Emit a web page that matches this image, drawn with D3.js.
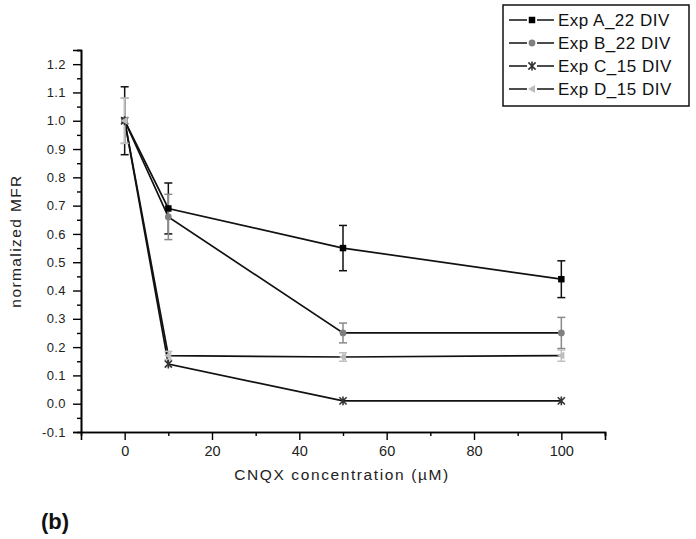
<!DOCTYPE html>
<html><head><meta charset="utf-8">
<script src="https://cdn.jsdelivr.net/npm/d3@7"></script>
<style>body{margin:0;background:#fff}svg{display:block}text{font-family:"Liberation Sans",Arial,sans-serif}</style></head>
<body><svg id="c" width="696" height="539"></svg>
<script>
const concentrations=[0,10,50,100];
const seriesNames=["Exp A_22 DIV","Exp B_22 DIV","Exp C_15 DIV","Exp D_15 DIV"];
const expA=[1.0,0.69,0.55,0.44];
const expAErr=[0.12,0.09,0.08,0.065];
const expB=[1.0,0.66,0.25,0.25];
const expBErr=[0.08,0.08,0.035,0.055];
const expC=[1.0,0.14,0.01,0.01];
const expCErr=[0.0,0.0,0.0,0.0];
const expD=[1.0,0.17,0.165,0.17];
const expDErr=[0.08,0.015,0.015,0.02];
const xTicks=[0,20,40,60,80,100];
const xMinor=[10,30,50,70,90,110];
const yTicks=[-0.1,0.0,0.1,0.2,0.3,0.4,0.5,0.6,0.7,0.8,0.9,1.0,1.1,1.2];
const yMinor=[-0.05,0.05,0.15,0.25,0.35,0.45,0.55,0.65,0.75,0.85,0.95,1.05,1.15,1.25];
const xTitle="CNQX concentration (\u00b5M)";
const yTitle="normalized MFR";
const panel="(b)";

const series=[
 {name:seriesNames[0],v:expA,e:expAErr,color:"#000",errColor:"#111",sym:"square"},
 {name:seriesNames[1],v:expB,e:expBErr,color:"#808080",errColor:"#8a8a8a",sym:"circle"},
 {name:seriesNames[2],v:expC,e:expCErr,color:"#333",errColor:"#333",sym:"star"},
 {name:seriesNames[3],v:expD,e:expDErr,color:"#bdbdbd",errColor:"#c0c0c0",sym:"tri"}
];

const svg=d3.select("#c");
const x=d3.scaleLinear().domain([-10,110]).range([81,605]);
const y=d3.scaleLinear().domain([-0.1,1.25]).range([432,50]);
const f1=d3.format(".1f");

// axes
const xAxis=svg.append("g").attr("transform","translate(0,432)")
 .call(d3.axisBottom(x).tickValues(xTicks).tickSize(8).tickPadding(6).tickFormat(d3.format("d")));
svg.append("g").attr("transform","translate(0,432)")
 .call(d3.axisBottom(x).tickValues(xMinor).tickSize(4).tickFormat(""));
const yAxis=svg.append("g").attr("transform","translate(81,0)")
 .call(d3.axisLeft(y).tickValues(yTicks).tickSize(8).tickPadding(7).tickFormat(d=>f1(d).replace("\u2212","-")));
svg.append("g").attr("transform","translate(81,0)")
 .call(d3.axisLeft(y).tickValues(yMinor).tickSize(4).tickFormat(""));
svg.selectAll(".domain").attr("stroke","#000").attr("stroke-width",1.6);
svg.selectAll(".tick line").attr("stroke","#000").attr("stroke-width",1.4);
xAxis.selectAll("text").attr("font-size",14.5).attr("fill","#222").attr("font-family","Liberation Sans, Arial");
yAxis.selectAll("text").attr("font-size",13).attr("fill","#222").attr("letter-spacing",0.4).attr("font-family","Liberation Sans, Arial");

// titles
svg.append("text").attr("x",342).attr("y",480).attr("text-anchor","middle")
 .attr("font-size",15.5).attr("letter-spacing",1.6).attr("fill","#222").text(xTitle);
svg.append("text").attr("transform","translate(21,241) rotate(-90)").attr("text-anchor","middle")
 .attr("font-size",15.5).attr("letter-spacing",1.4).attr("fill","#222").text(yTitle);
svg.append("text").attr("x",41).attr("y",529).attr("font-size",22).attr("font-weight","bold").attr("fill","#111").text(panel);

function symbolPath(sym){
 if(sym==="square") return d3.symbol(d3.symbolSquare,42)();
 if(sym==="circle") return d3.symbol(d3.symbolCircle,36)();
 if(sym==="tri") return "M-4,0L3,-4L3,4Z";
 return null;
}
function drawMarker(g,s,cx,cy){
 if(s.sym==="star"){
  const r=3.6;
  const p=`M${cx-r},${cy-r}L${cx+r},${cy+r}M${cx-r},${cy+r}L${cx+r},${cy-r}M${cx},${cy-r-0.8}L${cx},${cy+r+0.8}`;
  g.append("path").attr("d",p).attr("stroke",s.color).attr("stroke-width",1.6).attr("fill","none");
 } else {
  g.append("path").attr("d",symbolPath(s.sym)).attr("transform",`translate(${cx},${cy})`).attr("fill",s.color);
 }
}

const line=d3.line().x(d=>x(d[0])).y(d=>y(d[1]));
const plot=svg.append("g");
// lines
series.forEach(s=>{
 const pts=concentrations.map((c,i)=>[c,s.v[i]]);
 plot.append("path").attr("d",line(pts)).attr("fill","none").attr("stroke","#111").attr("stroke-width",1.7);
});
// error bars
series.forEach(s=>{
 concentrations.forEach((c,i)=>{
  if(!s.e[i]) return;
  const cx=x(c), y1=y(s.v[i]+s.e[i]), y2=y(s.v[i]-s.e[i]);
  const g=plot.append("g").attr("stroke",s.errColor).attr("stroke-width",1.5);
  g.append("line").attr("x1",cx).attr("x2",cx).attr("y1",y1).attr("y2",y2);
  g.append("line").attr("x1",cx-4).attr("x2",cx+4).attr("y1",y1).attr("y2",y1);
  g.append("line").attr("x1",cx-4).attr("x2",cx+4).attr("y1",y2).attr("y2",y2);
 });
});
// markers
series.forEach(s=>{
 concentrations.forEach((c,i)=>drawMarker(plot,s,x(c),y(s.v[i])));
});

// legend
const lg=svg.append("g");
lg.append("rect").attr("x",503).attr("y",5).attr("width",186).attr("height",101)
 .attr("fill","#fff").attr("stroke","#111").attr("stroke-width",1.5);
series.forEach((s,i)=>{
 const cy=20+i*23;
 lg.append("line").attr("x1",509).attr("x2",554).attr("y1",cy).attr("y2",cy).attr("stroke","#111").attr("stroke-width",1.7);
 lg.append("rect").attr("x",527).attr("y",cy-4).attr("width",10).attr("height",8).attr("fill","#fff");
 drawMarker(lg,s,532,cy);
 lg.append("text").attr("x",558).attr("y",cy+6).attr("font-size",17).attr("letter-spacing",0.5).attr("fill","#111").text(s.name);
});
</script></body></html>
